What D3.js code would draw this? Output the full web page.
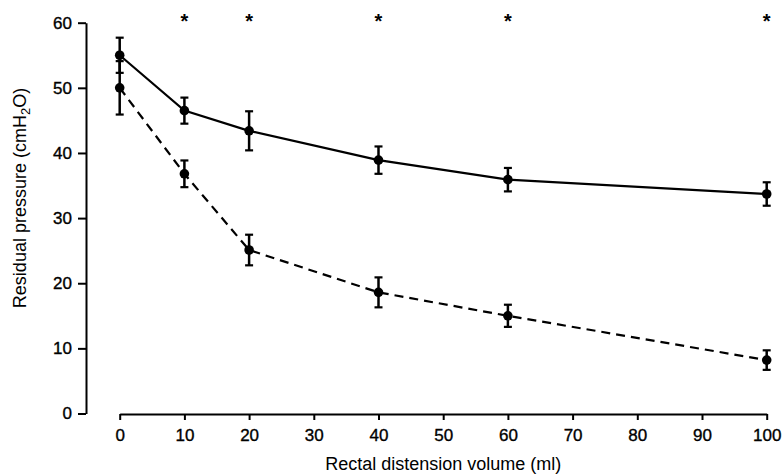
<!DOCTYPE html>
<html>
<head>
<meta charset="utf-8">
<script src="https://cdn.jsdelivr.net/npm/d3@7"></script>
<style>
  body { margin: 0; background: #fff; }
  svg { display: block; font-family: "Liberation Sans", Arial, sans-serif; }
  .axis path, .axis line { stroke: #000; stroke-width: 2; }
  .axis text { font-size: 17px; fill: #000; stroke: #000; stroke-width: 0.35; }
</style>
</head>
<body>
<script>
// rectal distension volume (ml)
var volumes = [0, 10, 20, 40, 60, 100];
// residual pressure, upper (solid) curve and its error bars
var solidMean = [55, 46.5, 43.4, 38.9, 35.9, 33.7];
var solidErr  = [2.7, 2.0, 3.0, 2.1, 1.8, 1.8];
// residual pressure, lower (dashed) curve and its error bars
var dashMean  = [50, 36.8, 25.1, 18.6, 15.0, 8.2];
var dashErr   = [4.1, 2.05, 2.35, 2.3, 1.7, 1.5];
// volumes marked as significant
var starVolumes = [10, 20, 40, 60, 100];
var xTicks = [0, 10, 20, 30, 40, 50, 60, 70, 80, 90, 100];
var yTicks = [0, 10, 20, 30, 40, 50, 60];

var W = 784, H = 476;
var svg = d3.select("body").append("svg")
  .attr("width", W)
  .attr("height", H);

var xScale = d3.scaleLinear().domain([0, 100]).range([119.7, 766.7]);
var yScale = d3.scaleLinear().domain([0, 60]).range([413.5, 22.7]);

// axes
var yAxis = d3.axisLeft(yScale).tickValues(yTicks).tickSize(8).tickSizeOuter(0).tickPadding(6);
svg.append("g").attr("class", "axis")
  .attr("transform", "translate(86,0)")
  .call(yAxis);

var xAxis = d3.axisBottom(xScale).tickValues(xTicks).tickSize(6).tickSizeOuter(0).tickPadding(9);
svg.append("g").attr("class", "axis")
  .attr("transform", "translate(0,414)")
  .call(xAxis);

// axis titles
svg.append("text")
  .attr("x", xScale(50))
  .attr("y", 470)
  .attr("text-anchor", "middle")
  .style("font-size", "18px")
  .text("Rectal distension volume (ml)");

var yt = svg.append("text")
  .attr("transform", "translate(26,198) rotate(-90)")
  .attr("text-anchor", "middle")
  .style("font-size", "18px");
yt.append("tspan").text("Residual pressure (cmH");
yt.append("tspan").attr("dy", 4).style("font-size", "13px").text("2");
yt.append("tspan").attr("dy", -4).text("O)");

// series
function drawSeries(mean, err, dash) {
  var pts = volumes.map(function(v, i) { return {x: v, y: mean[i], e: err[i]}; });
  var line = d3.line()
    .x(function(d) { return xScale(d.x); })
    .y(function(d) { return yScale(d.y); });

  svg.append("path")
    .datum(pts)
    .attr("d", line)
    .attr("fill", "none")
    .attr("stroke", "#000")
    .attr("stroke-width", 2.2)
    .attr("stroke-dasharray", dash ? "9,6" : null);

  var g = svg.append("g");
  var bars = g.selectAll("g").data(pts).enter().append("g");
  bars.append("line")
    .attr("x1", function(d) { return xScale(d.x); })
    .attr("x2", function(d) { return xScale(d.x); })
    .attr("y1", function(d) { return yScale(d.y + d.e); })
    .attr("y2", function(d) { return yScale(d.y - d.e); })
    .attr("stroke", "#000").attr("stroke-width", 2.5);
  [1, -1].forEach(function(s) {
    bars.append("line")
      .attr("x1", function(d) { return xScale(d.x) - 4; })
      .attr("x2", function(d) { return xScale(d.x) + 4; })
      .attr("y1", function(d) { return yScale(d.y + s * d.e); })
      .attr("y2", function(d) { return yScale(d.y + s * d.e); })
      .attr("stroke", "#000").attr("stroke-width", 2.2);
  });
  bars.append("circle")
    .attr("cx", function(d) { return xScale(d.x); })
    .attr("cy", function(d) { return yScale(d.y); })
    .attr("r", 4.8)
    .attr("fill", "#000");
}

drawSeries(solidMean, solidErr, false);
drawSeries(dashMean, dashErr, true);

// significance stars
svg.selectAll(".star").data(starVolumes).enter().append("text")
  .attr("class", "star")
  .attr("x", function(d) { return xScale(d); })
  .attr("y", 28)
  .attr("text-anchor", "middle")
  .style("font-size", "20px")
  .style("font-weight", "bold")
  .text("*");
</script>
</body>
</html>
